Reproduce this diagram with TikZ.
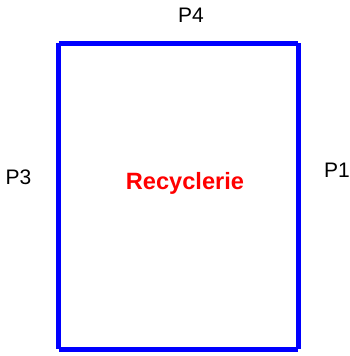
\documentclass[tikz,border=0pt]{standalone}
\usepackage{fontspec}
\setmainfont{Liberation Sans}
\begin{document}
\begin{tikzpicture}[x=1bp,y=-1bp,
  wall/.style={draw={rgb,255:red,0;green,0;blue,255},line width=5bp,line cap=butt},
  plabel/.style={font=\fontsize{21bp}{24bp}\selectfont,anchor=base,inner sep=0pt},
  roomlabel/.style={font=\fontsize{23.6bp}{27bp}\selectfont\bfseries,text={rgb,255:red,255;green,0;blue,0},anchor=base,inner sep=0pt}]
\useasboundingbox (0,0) rectangle (350,356);
\coordinate (tl) at (58.5,43);
\coordinate (tr) at (298,43);
\coordinate (bl) at (58.5,349);
\coordinate (br) at (298,349);
\coordinate (t1) at (111,43);
\coordinate (t2) at (245,43);
\coordinate (b1) at (111,349);
\coordinate (b2) at (245,349);
\coordinate (l1) at (58.5,96.5);
\coordinate (l2) at (58.5,296);
\coordinate (r1) at (298,96.5);
\coordinate (r2) at (298,296);
% top
\draw[wall] (tl) -- (t1);
\draw[wall] (t1) -- (t2);
\draw[wall] (t2) -- (tr);
% bottom
\draw[wall] (bl) -- (b1);
\draw[wall] (b1) -- (b2);
\draw[wall] (b2) -- (br);
% left
\draw[wall] (tl) -- (l1);
\draw[wall] (l1) -- (l2);
\draw[wall] (l2) -- (bl);
% right
\draw[wall] (tr) -- (r1);
\draw[wall] (r1) -- (r2);
\draw[wall] (r2) -- (br);
\node[plabel] (p4) at (191,22.7) {P4};
\node[plabel] (p3) at (18.5,184) {P3};
\node[plabel] (p1) at (337,177) {P1};
\node[roomlabel] (room) at (185,189.3) {Recyclerie};
\end{tikzpicture}
\end{document}
